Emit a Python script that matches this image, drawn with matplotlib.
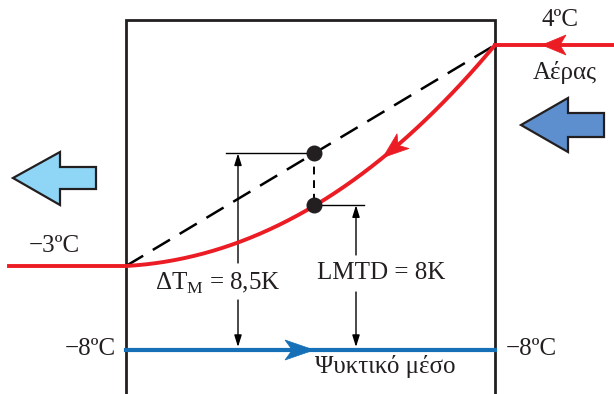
import numpy as np
import matplotlib
matplotlib.use("Agg")
import matplotlib.pyplot as plt
from matplotlib.patches import Polygon

# Temperatures and differences shown on the diagram
air_temps = [4, -3]          # air inlet / outlet, °C
refrigerant_temp = [-8, -8]  # evaporating refrigerant, °C
delta_tm = "8,5"             # arithmetic mean temperature difference, K
lmtd = "8"                   # log-mean temperature difference, K
labels_medium = ["Αέρας", "Ψυκτικό μέσο"]

RED = "#ec1c24"
BLUE = "#1570b8"
LIGHT_BLUE = "#8fd6f6"
MID_BLUE = "#5d8fcf"
FONT = "Liberation Serif"

# Schematic layout (pixel frame of the drawing)
W, H = 614, 394
x_left, x_right, y_top = 126, 495, 20
y_air_in, y_air_out, y_ref = 45, 266, 350

fig = plt.figure(figsize=(W / 100, H / 100), dpi=100)
ax = fig.add_axes([0, 0, 1, 1])
ax.set_xlim(0, W)
ax.set_ylim(H, 0)
ax.axis("off")


def stealth(tip, direction, length, width, color, notch=0.25):
    d = np.asarray(direction, float)
    d /= np.hypot(*d)
    n = np.array([-d[1], d[0]])
    tip = np.asarray(tip, float)
    back = tip - d * length
    pts = [tip, back + n * width / 2, tip - d * length * (1 - notch), back - n * width / 2]
    ax.add_patch(Polygon(pts, closed=True, facecolor=color, edgecolor=color, lw=0.5, zorder=6))


# Frame (open at the bottom)
ax.plot([x_left, x_left, x_right, x_right], [H, y_top, y_top, H], color="#231f20", lw=2.0,
        solid_joinstyle="miter", zorder=2)

# Straight (arithmetic) profile
ax.plot([x_left, x_right], [y_air_out, y_air_in], color="black", lw=1.8,
        dashes=(8, 4.5), zorder=3)

# Actual air temperature curve (quadratic Bezier)
p0 = np.array([x_left, y_air_out])
c = np.array([320, 255])
p2 = np.array([x_right, y_air_in])
t = np.linspace(0, 1, 200)[:, None]
curve = (1 - t) ** 2 * p0 + 2 * t * (1 - t) * c + t ** 2 * p2
ax.plot(curve[:, 0], curve[:, 1], color=RED, lw=2.8, zorder=4, solid_capstyle="butt")
ax.plot([9, x_left], [y_air_out, y_air_out], color=RED, lw=2.8, zorder=4)
ax.plot([x_right, W], [y_air_in, y_air_in], color=RED, lw=2.8, zorder=4)

# flow arrows
stealth((542, y_air_in), (-1, 0), 24, 20, RED)
ti = 0.685
tip = (1 - ti) ** 2 * p0 + 2 * ti * (1 - ti) * c + ti ** 2 * p2
tan = 2 * (1 - ti) * (c - p0) + 2 * ti * (p2 - c)
stealth(tip, -tan, 26, 19, RED)

# Refrigerant line
ax.plot([x_left, x_right], [y_ref, y_ref], color=BLUE, lw=3.0, zorder=4)
stealth((314, y_ref), (1, 0), 29, 20, BLUE)

# Points at mid position
xm = 314
tm = 0.5
y_curve = ((1 - tm) ** 2 * p0 + 2 * tm * (1 - tm) * c + tm ** 2 * p2)[1]
y_line = y_air_out + (y_air_in - y_air_out) * (xm - x_left) / (x_right - x_left)
ax.plot([xm, xm], [y_line, y_curve], color="black", lw=1.4, dashes=(4, 3), zorder=3)
ax.plot([xm, xm], [y_line, y_curve], "o", color="#231f20", ms=10.5, zorder=7)


# Dimension lines
def dim(x, y_from, x0, x1, gap_top, gap_bot):
    ax.plot([x0, x1], [y_from, y_from], color="black", lw=1.0, zorder=3)
    ax.annotate("", xy=(x, y_from), xytext=(x, gap_top),
                arrowprops=dict(arrowstyle="-|>,head_length=0.7,head_width=0.22",
                                color="black", lw=1.0, shrinkA=0, shrinkB=0))
    ax.annotate("", xy=(x, y_ref - 3), xytext=(x, gap_bot),
                arrowprops=dict(arrowstyle="-|>,head_length=0.7,head_width=0.22",
                                color="black", lw=1.0, shrinkA=0, shrinkB=0))


dim(238, y_line, 226, xm, 263, 300)
dim(356, y_curve, xm, 364, 255, 292)

fs = 18
txt = dict(fontfamily=FONT, fontsize=fs, color="#231f20", ha="center", va="center")
ax.text(560, 20, f"{air_temps[0]}ºC", **txt)
ax.text(565, 72, labels_medium[0], **txt)
ax.text(54, 246, f"−{abs(air_temps[1])}ºC", **txt)
ax.text(90, 349, f"−{abs(refrigerant_temp[0])}ºC", **txt)
ax.text(531, 349, f"−{abs(refrigerant_temp[1])}ºC", **txt)
ax.text(385, 367, labels_medium[1], **txt)
ax.text(218, 283, "ΔT$_{\\mathregular{M}}$ = " + delta_tm + "K", **txt)
ax.text(381, 273, "LMTD = " + lmtd + "K", **txt)

# Large direction arrows
left_arrow = [(13, 178), (60, 152), (60, 167), (96, 167), (96, 189), (60, 189), (60, 205)]
right_arrow = [(521, 125), (568, 98), (568, 113), (604, 113), (604, 137), (568, 137), (568, 152)]
ax.add_patch(Polygon(left_arrow, closed=True, facecolor=LIGHT_BLUE, edgecolor="#231f20",
                     lw=1.6, joinstyle="miter", zorder=5))
ax.add_patch(Polygon(right_arrow, closed=True, facecolor=MID_BLUE, edgecolor="#231f20",
                     lw=1.6, joinstyle="miter", zorder=5))

fig.savefig("out.png", dpi=100)
